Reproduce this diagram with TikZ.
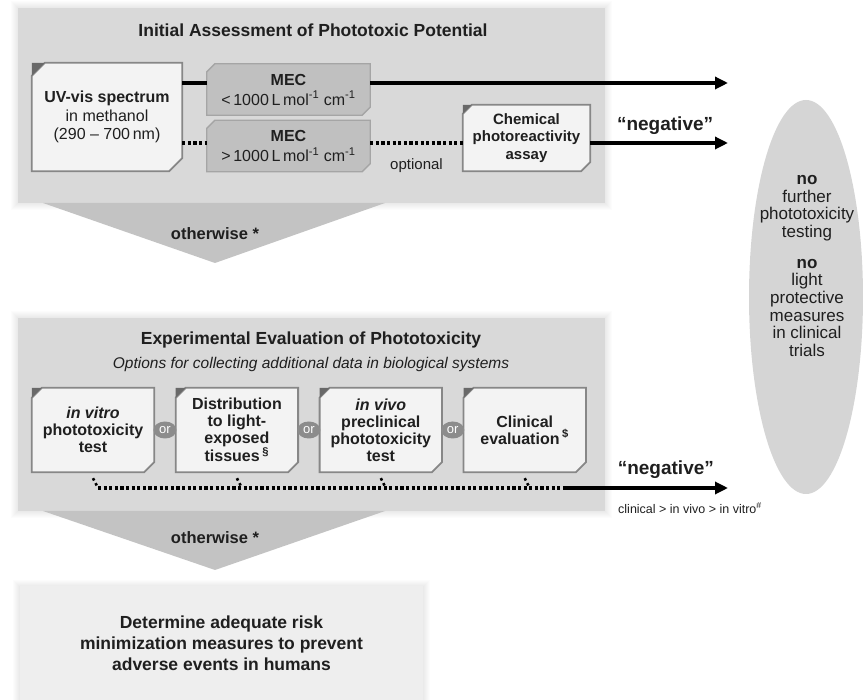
\documentclass[tikz,border=0pt]{standalone}
\usepackage{fontspec}
\setmainfont{Liberation Sans}
\usetikzlibrary{arrows.meta, positioning, shapes.geometric, backgrounds, calc}
\definecolor{panelgray}{RGB}{217, 217, 217}
\definecolor{chevgray}{RGB}{195, 195, 195}
\definecolor{boxfill}{RGB}{243, 243, 243}
\definecolor{boxedge}{RGB}{135, 135, 135}
\definecolor{mecfill}{RGB}{192, 192, 192}
\definecolor{mecedge}{RGB}{165, 165, 165}
\definecolor{cornergray}{RGB}{105, 105, 105}
\definecolor{orgray}{RGB}{140, 140, 140}
\definecolor{ellgray}{RGB}{213, 213, 213}
\definecolor{lastfill}{RGB}{238, 238, 238}
\newcommand{\fs}[2]{\fontsize{#1}{#2}\selectfont}
% outline with cut corners top-left and bottom-right
\newcommand{\chamferbox}[3]{%
  \path[#3] ([xshift=#2]#1.north west) -- (#1.north east)
    -- ([yshift=#2]#1.south east) -- ([xshift=-#2]#1.south east)
    -- (#1.south west) -- ([yshift=-#2]#1.north west) -- cycle;}
\newcommand{\cornermark}[2]{%
  \fill[cornergray] (#1.north west) -- ([xshift=#2]#1.north west)
    -- ([yshift=-#2]#1.north west) -- cycle;}
% soft edge round a panel
\newcommand{\halo}[2]{%
  \foreach \d in {1,...,7}
    \fill[black, opacity=0.012] ($#1+(-\d,-\d)$) rectangle ($#2+(\d,\d)$);}

\begin{document}
\begin{tikzpicture}[
  x=1pt, y=-1pt,
  every node/.style={inner sep=0pt, align=center, text=black!88},
  title/.style={font=\fs{17.5}{20}\bfseries},
  subtitle/.style={font=\fs{15.5}{18}\itshape},
  uvbox/.style={minimum width=150pt, minimum height=108pt, font=\fs{16}{18.3}},
  mecbox/.style={minimum width=163pt, minimum height=51pt, font=\fs{16}{20}},
  chembox/.style={minimum width=127pt, minimum height=66pt, font=\fs{15}{17.5}\bfseries},
  testbox/.style={minimum width=122pt, minimum height=84pt, font=\fs{16}{17}\bfseries},
  boxline/.style={draw=boxedge, fill=boxfill, line width=1.8pt},
  mecline/.style={draw=mecedge, fill=mecfill, line width=1.3pt},
  orlabel/.style={ellipse, fill=orgray, minimum width=23pt, minimum height=17pt,
                  text=white, font=\fs{13}{14}},
  otherw/.style={font=\fs{16.5}{20}\bfseries},
  link/.style={line width=3.2pt},
  dotline/.style={line width=3.2pt, dash pattern=on 3.2pt off 2.4pt},
  arrow/.style={line width=3.2pt, -{Triangle[length=13pt, width=12pt]}},
  lb/.style={font=\fs{19}{21}\bfseries},
  node distance=21.5pt
]
\useasboundingbox (0,0) rectangle (863,700);

% ── Levels of the connectors ────────────────────────────────────────────────
\coordinate (lvlA) at (0,83);
\coordinate (lvlB) at (0,143);
\coordinate (lvlC) at (0,488);
\coordinate (endx) at (728,0);

% ── Initial assessment ──────────────────────────────────────────────────────
\node[title] (initial) at (313,30) {Initial Assessment of Phototoxic Potential};

\node[uvbox] (uv) at (107,117)
  {\textbf{UV-vis spectrum}\\in methanol\\(290 – 700\,nm)};

\node[mecbox] (mecA) at (288.5,89.5)
  {\textbf{MEC}\\{<}\,1000\,L\,mol\textsuperscript{-1} cm\textsuperscript{-1}};

\node[mecbox] (mecB) at (288.5,146)
  {\textbf{MEC}\\{>}\,1000\,L\,mol\textsuperscript{-1} cm\textsuperscript{-1}};

\node[chembox] (chem) at (526.5,138)
  {Chemical\\photoreactivity\\assay};

\node[otherw] (other1) at (215,234) {otherwise *};

% ── Experimental evaluation ─────────────────────────────────────────────────
\node[title] (experim) at (311,340) {Experimental Evaluation of Phototoxicity};
\node[subtitle, below=9pt of experim] (options)
  {Options for collecting additional data in biological systems};

\node[testbox] (vitro) at (93,430)
  {\textit{in vitro}\\phototoxicity\\test};
\node[testbox, right=of vitro] (distrib)
  {Distribution\\to light-\\exposed\\tissues\,\textsuperscript{§}};
\node[testbox, right=of distrib] (vivo)
  {\textit{in vivo}\\preclinical\\phototoxicity\\test};
\node[testbox, right=of vivo] (clinic)
  {Clinical\\evaluation\,\textsuperscript{\$}};

\node[otherw] (other2) at (215,538) {otherwise *};

\node[fill=lastfill, minimum width=403pt, minimum height=114pt,
      font=\fs{17.5}{21}\bfseries] (risk) at (221.5,643)
  {Determine adequate risk\\minimization measures to prevent\\adverse events in humans};

% ── Outcome ─────────────────────────────────────────────────────────────────
\node[ellipse, fill=ellgray, minimum width=114pt, minimum height=394pt] (stopshape)
  at (806,297) {};
\node[font=\fs{17}{17.7}] (stop) at (807,266)
  {\textbf{no}\\further\\phototoxicity\\testing\\[13pt]
   \textbf{no}\\light\\protective\\measures\\in clinical\\trials};

% ── Panels and box outlines ─────────────────────────────────────────────────
\begin{scope}[on background layer]
  \halo{(18,8)}{(605,203)}
  \halo{(18,318)}{(605,511)}
  \halo{(20,587)}{(423,700)}
  \fill[panelgray] (18,8) rectangle (605,203);
  \fill[chevgray] (43,203) -- (385,203) -- (215,263) -- cycle;
  \fill[panelgray] (18,318) rectangle (605,511);
  \fill[chevgray] (43,511) -- (385,511) -- (215,570) -- cycle;

  \chamferbox{uv}{13pt}{boxline}
  \cornermark{uv}{13pt}
  \chamferbox{mecA}{8pt}{mecline}
  \chamferbox{mecB}{8pt}{mecline}
  \chamferbox{chem}{9pt}{boxline}
  \cornermark{chem}{9pt}
  \foreach \b in {vitro, distrib, vivo, clinic} {
    \chamferbox{\b}{10pt}{boxline}
    \cornermark{\b}{10pt}
  }
\end{scope}

% ── "or" between the tests ──────────────────────────────────────────────────
\node[orlabel] (or1) at ($(vitro.east)!0.5!(distrib.west)$) {or};
\node[orlabel] (or2) at ($(distrib.east)!0.5!(vivo.west)$) {or};
\node[orlabel] (or3) at ($(vivo.east)!0.5!(clinic.west)$) {or};

% ── Connectors ──────────────────────────────────────────────────────────────
\draw[link] (uv.east |- lvlA) -- (mecA.west |- lvlA);
\draw[arrow] (mecA.east |- lvlA) -- (endx |- lvlA);

\draw[dotline] (uv.east |- lvlB) -- (mecB.west |- lvlB);
\draw[dotline] (mecB.east |- lvlB) --
  node[below=14pt, font=\fs{15}{17}]{optional} (chem.west |- lvlB);
\draw[arrow] (chem.east |- lvlB) --
  node[above=7pt, xshift=6pt, lb]{“negative”} (endx |- lvlB);

% tests → common line
\foreach \b in {vitro, distrib, vivo, clinic}
  \draw[dotline, line width=2.6pt, dash pattern=on 2.6pt off 3pt]
    ([yshift=-6pt]\b.south) -- ([xshift=5pt]\b.south |- lvlC);
\coordinate (dotend) at ([xshift=41pt]clinic.south |- lvlC);
\draw[dotline] ([xshift=5pt]vitro.south |- lvlC) -- (dotend);
\draw[arrow] (dotend) -- node[above=8pt, xshift=19pt, lb]{“negative”} (endx |- lvlC);
\node[anchor=west, font=\fs{12.5}{14}] (order) at (618,508)
  {clinical > in vivo > in vitro\textsuperscript{\#}};

\end{tikzpicture}
\end{document}
